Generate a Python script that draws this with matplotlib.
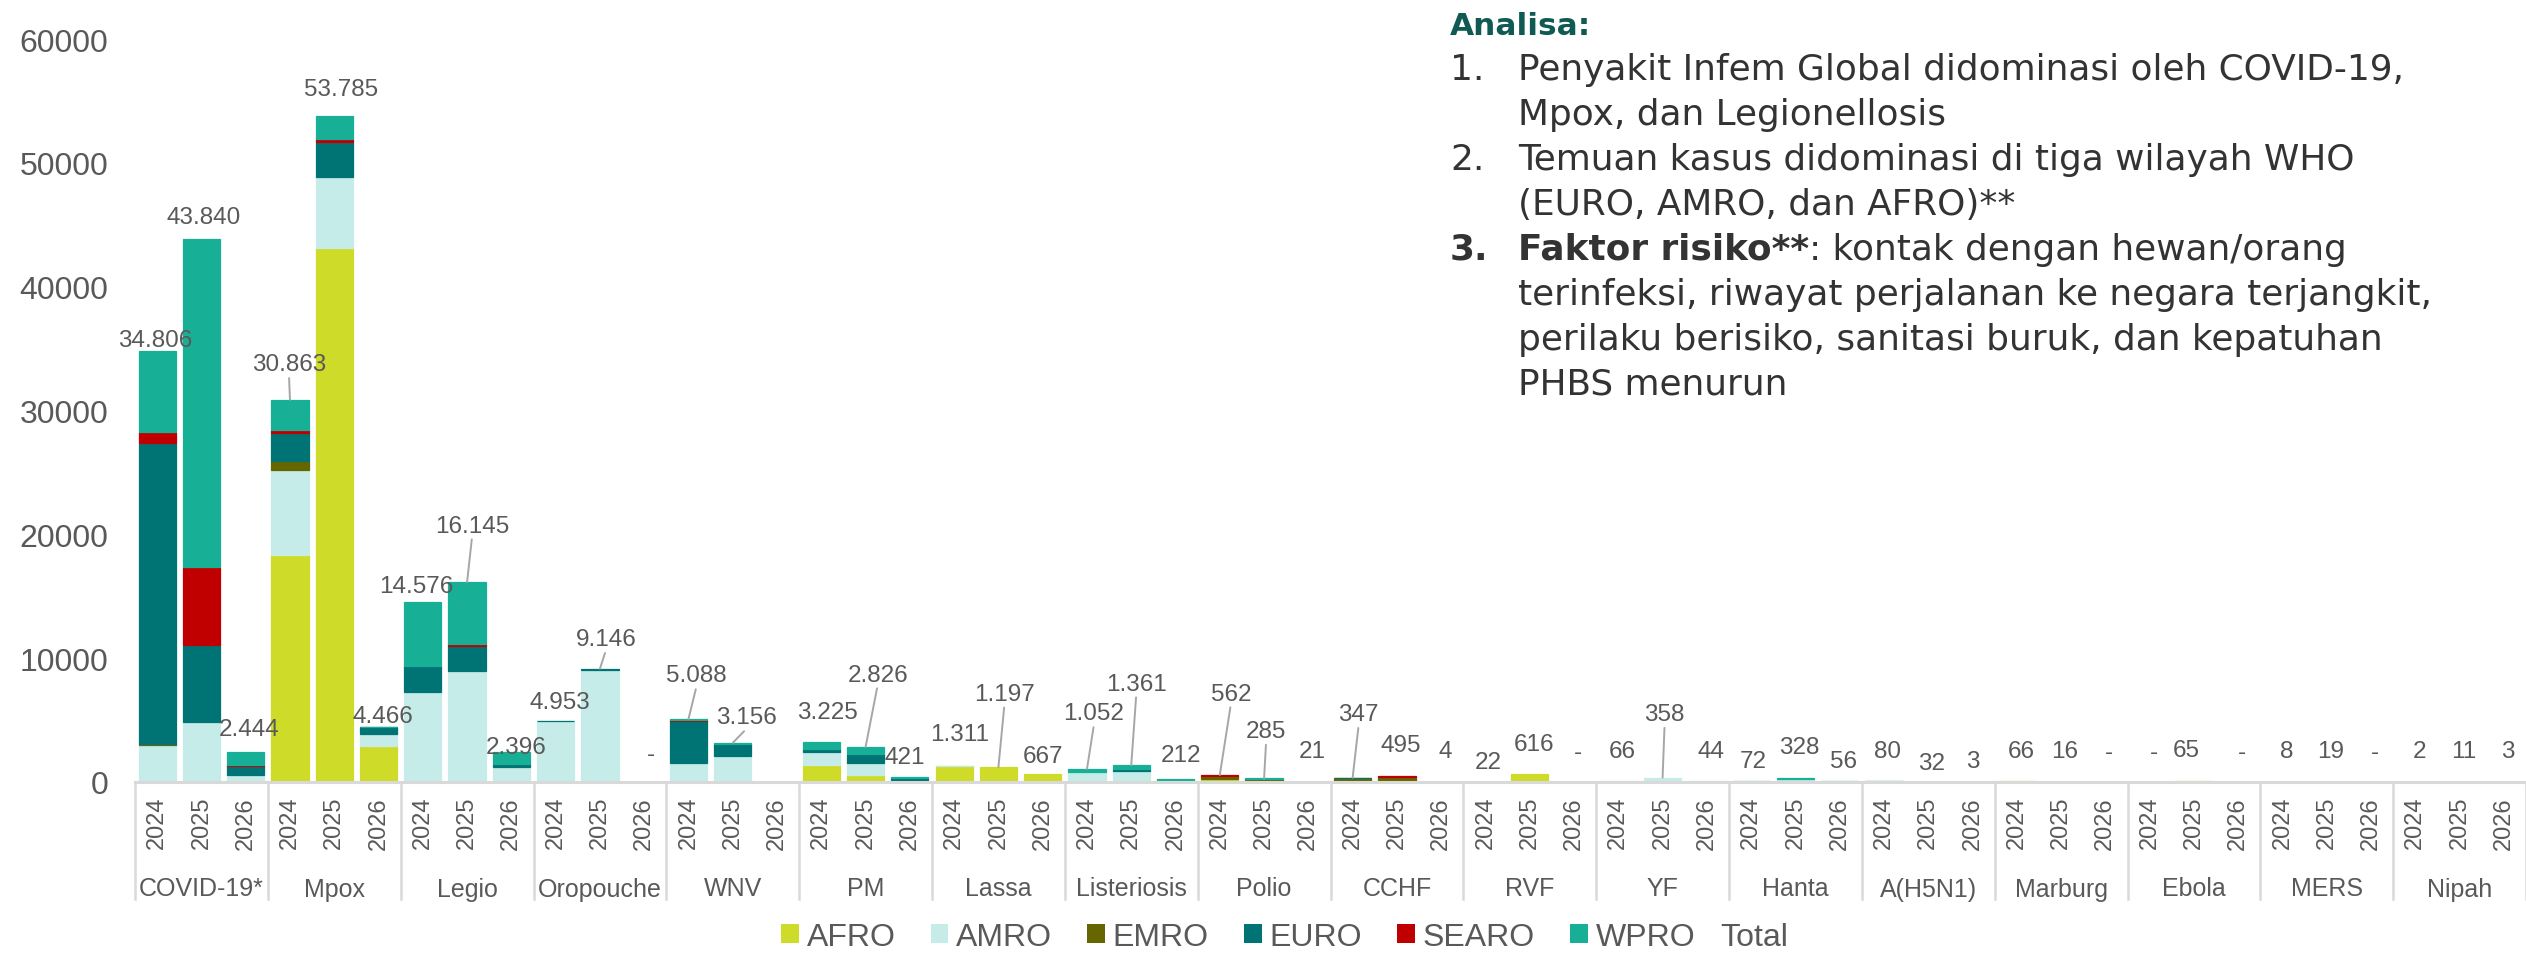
import matplotlib
matplotlib.use("Agg")
import matplotlib.pyplot as plt
import matplotlib.transforms as mtransforms
from matplotlib.patches import Patch
from matplotlib.lines import Line2D
from matplotlib.text import Annotation

plt.rcParams['font.family'] = ['Liberation Sans', 'DejaVu Sans']

W, H, DPI = 2526, 954, 100

# ---------------- data ----------------
diseases = ["COVID-19*", "Mpox", "Legio", "Oropouche", "WNV", "PM", "Lassa",
            "Listeriosis", "Polio", "CCHF", "RVF", "YF", "Hanta", "A(H5N1)",
            "Marburg", "Ebola", "MERS", "Nipah"]
years = ["2024", "2025", "2026"]
regions = ["AFRO", "AMRO", "EMRO", "EURO", "SEARO", "WPRO"]
total_name = "Total"

#        2024   2025   2026  (per disease, in order of `diseases`)
afro = [0, 0, 0,            18300, 43100, 2900,   0, 0, 0,        0, 0, 0,
        0, 0, 0,            1400, 600, 150,       1261, 1197, 667, 0, 0, 0,
        260, 120, 10,       0, 0, 0,              22, 616, 0,      0, 0, 0,
        0, 0, 0,            0, 0, 0,              66, 16, 0,       0, 65, 0,
        0, 0, 0,            0, 0, 0]
amro = [3000, 4850, 600,    6900, 5750, 950,      7250, 8950, 1200, 4900, 9050, 0,
        1500, 2100, 0,      1000, 950, 50,        50, 0, 0,        830, 880, 100,
        0, 0, 0,            0, 0, 0,              0, 0, 0,         66, 358, 44,
        40, 250, 30,        66, 20, 0,            0, 0, 0,         0, 0, 0,
        0, 0, 0,            0, 0, 0]
emro = [100, 0, 0,          750, 0, 0,            0, 0, 0,         0, 0, 0,
        0, 0, 0,            0, 0, 0,              0, 0, 0,         0, 0, 0,
        230, 110, 11,       320, 420, 4,          0, 0, 0,         0, 0, 0,
        0, 0, 0,            0, 0, 0,              0, 0, 0,         0, 0, 0,
        8, 19, 0,           0, 0, 0]
euro = [24300, 6200, 700,   2200, 2850, 566,      2100, 2000, 250, 53, 96, 0,
        3450, 1000, 0,      300, 700, 150,        0, 0, 0,         0, 160, 0,
        0, 0, 0,            27, 0, 0,             0, 0, 0,         0, 0, 0,
        0, 0, 0,            0, 0, 0,              0, 0, 0,         0, 0, 0,
        0, 0, 0,            0, 0, 0]
searo = [900, 6300, 100,    250, 200, 0,          0, 200, 0,       0, 0, 0,
         80, 0, 0,          0, 0, 0,              0, 0, 0,         0, 0, 0,
         72, 0, 0,          0, 75, 0,             0, 0, 0,         0, 0, 0,
         0, 0, 0,           0, 0, 0,              0, 0, 0,         0, 0, 0,
         0, 0, 0,           2, 11, 3]
wpro = [6506, 26490, 1044,  2463, 1885, 50,       5226, 4995, 946, 0, 0, 0,
        58, 56, 0,          525, 576, 71,         0, 0, 0,         222, 321, 112,
        0, 55, 0,           0, 0, 0,              0, 0, 0,         0, 0, 0,
        32, 78, 26,         14, 12, 3,            0, 0, 0,         0, 0, 0,
        0, 0, 0,            0, 0, 0]
# Total labels (None = no label shown, 0 = "-")
totals = [34806, 43840, 2444,  30863, 53785, 4466,  14576, 16145, 2396,  4953, 9146, 0,
          5088, 3156, None,    3225, 2826, 421,     1311, 1197, 667,     1052, 1361, 212,
          562, 285, 21,        347, 495, 4,         22, 616, 0,          66, 358, 44,
          72, 328, 56,         80, 32, 3,           66, 16, 0,           0, 65, 0,
          8, 19, 0,            2, 11, 3]

analysis_title = "Analisa:"
analysis_items = [
    ("1.", ["Penyakit Infem Global didominasi oleh COVID-19,", "Mpox, dan Legionellosis"]),
    ("2.", ["Temuan kasus didominasi di tiga wilayah WHO", "(EURO, AMRO, dan AFRO)**"]),
]
analysis_item3_bold = "Faktor risiko**"
analysis_item3 = [": kontak dengan hewan/orang",
                  "terinfeksi, riwayat perjalanan ke negara terjangkit,",
                  "perilaku berisiko, sanitasi buruk, dan kepatuhan",
                  "PHBS menurun"]

# ---------------- style ----------------
colors = {"AFRO": "#CEDC29", "AMRO": "#C5ECE8", "EMRO": "#666600",
          "EURO": "#007474", "SEARO": "#C00000", "WPRO": "#17B097"}
GRAY = "#595959"
LINE = "#D9D9D9"

# label layout overrides: (dx px, label centre above bar top px, leader line)
label_layout = {
    "COVID-19* 2024": (-2, 13, False), "COVID-19* 2025": (2, 25, False),
    "COVID-19* 2026": (3, 25, False), "Mpox 2024": (-1, 38, True),
    "Mpox 2025": (7, 29, False), "Mpox 2026": (4, 13, False),
    "Legio 2024": (-7, 18, False), "Legio 2025": (5, 59, True),
    "Legio 2026": (5, 8, False), "Oropouche 2024": (4, 21, False),
    "Oropouche 2025": (6, 32, True), "Oropouche 2026": (7, 31, False),
    "WNV 2024": (8, 46, True), "WNV 2025": (14, 28, True),
    "PM 2024": (6, 33, False), "PM 2025": (12, 75, True),
    "PM 2026": (-5, 22, False), "Lassa 2024": (5, 34, False),
    "Lassa 2025": (6, 76, True), "Lassa 2026": (0, 20, False),
    "Listeriosis 2024": (7, 58, True), "Listeriosis 2025": (5, 84, True),
    "Listeriosis 2026": (5, 27, False), "Polio 2024": (11, 84, True),
    "Polio 2025": (2, 50, True), "CCHF 2024": (6, 66, True),
    "RVF 2024": (3, 22, False), "YF 2025": (2, 66, True),
    "Hanta 2024": (2, 23, False), "Hanta 2026": (4, 23, False),
    "A(H5N1) 2025": (3, 21, False), "A(H5N1) 2026": (0, 23, False),
    "Ebola 2025": (-8, 34, False),
}
DEFAULT_LAYOUT = (4, 33, False)

# ---------------- figure ----------------
fig = plt.figure(figsize=(W / DPI, H / DPI), dpi=DPI)
ax_left, ax_bottom_px, ax_top_px = 135, 783, 40
ax = fig.add_axes([ax_left / W, 1 - ax_bottom_px / H, (W - ax_left) / W,
                   (ax_bottom_px - ax_top_px) / H])

series = {"AFRO": afro, "AMRO": amro, "EMRO": emro, "EURO": euro,
          "SEARO": searo, "WPRO": wpro}
n = len(afro)
xs = list(range(n))
bottom = [0] * n
for r in regions:
    vals = series[r]
    lws = [0.9 if v > 0 else 0 for v in vals]
    ax.bar(xs, vals, width=0.84, bottom=bottom, color=colors[r],
           edgecolor=colors[r], linewidth=lws, label=r, zorder=2)
    bottom = [b + v for b, v in zip(bottom, vals)]
stack_top = bottom

ax.set_xlim(-0.5, n - 0.5)
ax.set_ylim(0, 60000)
ax.set_yticks(range(0, 60001, 10000))
ax.tick_params(axis='y', length=0, pad=19, labelsize=23, labelcolor=GRAY)
ax.set_xticks(xs)
ax.set_xticklabels(years * len(diseases), rotation=90)
ax.tick_params(axis='x', length=0, pad=10, labelsize=17, labelcolor=GRAY)
for s in ("left", "top", "right"):
    ax.spines[s].set_visible(False)
ax.spines["bottom"].set_color(LINE)
ax.spines["bottom"].set_linewidth(2.2)

trans = mtransforms.blended_transform_factory(ax.transData, fig.transFigure)
for k in range(len(diseases) + 1):
    xv = -0.5 + 3 * k
    ax.add_line(Line2D([xv, xv], [1 - 783 / H, 1 - 900 / H], transform=trans,
                       color=LINE, lw=1.8, clip_on=False))
for g, name in enumerate(diseases):
    ax.text(3 * g + 1, 1 - 887 / H, name, transform=trans, ha='center',
            va='center_baseline', fontsize=18, color=GRAY)

# total labels
for i, t in enumerate(totals):
    if t is None:
        continue
    key = f"{diseases[i // 3]} {years[i % 3]}"
    dx, dy, leader = label_layout.get(key, DEFAULT_LAYOUT)
    txt = "-" if t == 0 else f"{t:,}".replace(",", ".")
    kw = {}
    if leader:
        kw["arrowprops"] = dict(arrowstyle='-', color='#A6A6A6', lw=1.4,
                                shrinkA=0, shrinkB=0, relpos=(0.5, 0))
    ax.annotate(txt, xy=(i, stack_top[i]), xytext=(dx, dy),
                textcoords='offset pixels', ha='center', va='center_baseline',
                fontsize=17.5, color=GRAY, annotation_clip=False, zorder=5, **kw)

# legend (regions) + the "Total" entry, which has no swatch
handles = [Patch(facecolor=colors[r], edgecolor='none') for r in regions]
fig.legend(handles, regions, loc='center left',
           bbox_to_anchor=(781 / W, 1 - 938 / H), ncol=6, frameon=False,
           fontsize=23, handlelength=0.55, handleheight=0.55,
           handletextpad=0.25, columnspacing=1.1, labelcolor=GRAY,
           borderpad=0, borderaxespad=0)
fig.text(1720 / W, 1 - 938 / H, total_name, ha='left', va='center',
         fontsize=23, color=GRAY)

# analysis text block
AF = ['DejaVu Sans']
TXT = "#333333"
TEAL = "#0F5A52"
FS = 25.8


def ftext(xp, yp, s, size=FS, **kw):
    return fig.text(xp / W, 1 - yp / H, s, va='baseline', family=AF,
                    fontsize=size, **kw)


ftext(1450, 35, analysis_title, size=22.5, fontweight='bold', color=TEAL)
base = 80
step = 45
row = 0
for num, lines in analysis_items:
    ftext(1450, base + row * step, num, color=TXT)
    for ln in lines:
        ftext(1518, base + row * step, ln, color=TXT)
        row += 1
ftext(1450, base + row * step, "3.", fontweight='bold', color=TXT)
tb = ftext(1518, base + row * step, analysis_item3_bold, fontweight='bold', color=TXT)
fig.add_artist(Annotation(analysis_item3[0], xy=(1, 0), xycoords=tb, ha='left',
                          va='bottom', family=AF, fontsize=FS, color=TXT))
row += 1
for ln in analysis_item3[1:]:
    ftext(1518, base + row * step, ln, color=TXT)
    row += 1

fig.savefig("out.png", dpi=DPI)
